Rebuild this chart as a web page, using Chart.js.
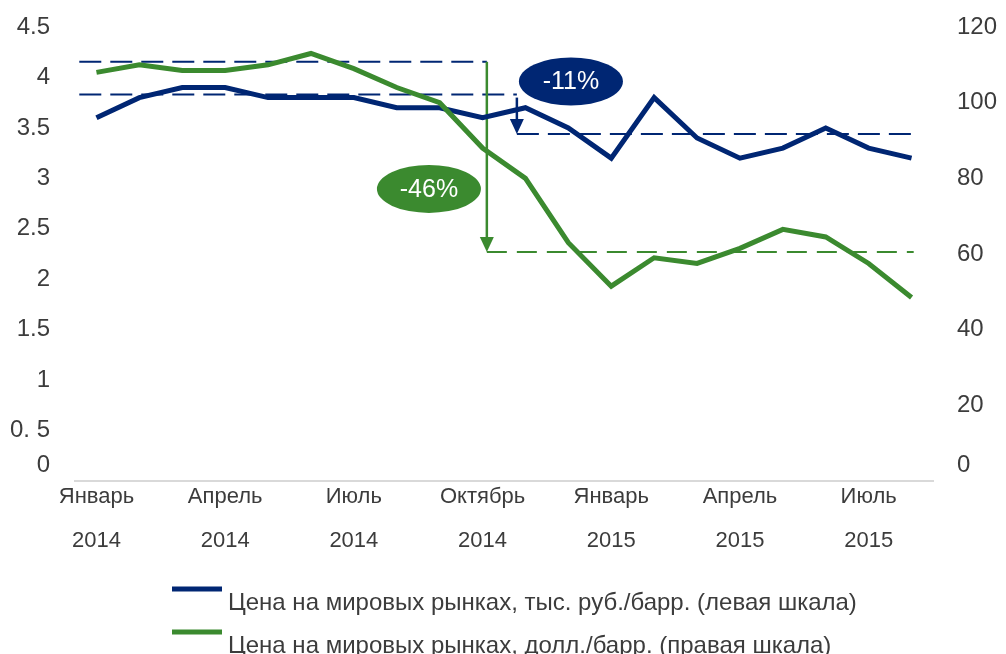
<!DOCTYPE html>
<html lang="ru">
<head>
<meta charset="UTF-8" />
<title>Цена нефти</title>
<script src="https://cdn.jsdelivr.net/npm/chart.js"></script>
<style>
  html, body { margin: 0; padding: 0; background: #fff; }
  #wrap { width: 1006px; height: 654px; }
</style>
</head>
<body>
<div id="wrap"><canvas id="chart"></canvas></div>
<script>
  const MONTHS = ["Январь", "Февраль", "Март", "Апрель", "Май", "Июнь", "Июль", "Август", "Сентябрь", "Октябрь", "Ноябрь", "Декабрь",
                  "Январь", "Февраль", "Март", "Апрель", "Май", "Июнь", "Июль", "Август"];
  const YEARS = ["2014", "2014", "2014", "2014", "2014", "2014", "2014", "2014", "2014", "2014", "2014", "2014",
                 "2015", "2015", "2015", "2015", "2015", "2015", "2015", "2015"];

  // тыс. руб./барр. (левая шкала)
  const RUB_PRICE = [3.6, 3.8, 3.9, 3.9, 3.8, 3.8, 3.8, 3.7, 3.7, 3.6, 3.7, 3.5, 3.2, 3.8, 3.4, 3.2, 3.3, 3.5, 3.3, 3.2];
  // долл./барр. (правая шкала)
  const USD_PRICE = [108, 110, 108.5, 108.5, 110, 113, 109, 104, 100, 88, 80, 63, 51.5, 59, 57.5, 61.5, 66.5, 64.5, 57.5, 48.5];

  const LEFT_TICKS = ["0", "0. 5", "1", "1.5", "2", "2.5", "3", "3.5", "4", "4.5"];
  const RIGHT_TICKS = ["0", "20", "40", "60", "80", "100", "120"];

  const SERIES_NAMES = [
    "Цена на мировых рынках, тыс. руб./барр. (левая шкала)",
    "Цена на мировых рынках, долл./барр. (правая шкала)"
  ];

  // уровни до и после падения
  const RUB_DROP = { from: 3.83, to: 3.44, text: "-11%" };
  const USD_DROP = { from: 110.8, to: 60.5, text: "-46%" };

  const NAVY = "#002673";
  const GREEN = "#3b8a2f";
  const TEXT = "#3c3c3c";
  const FONT = "'Liberation Sans', Arial, sans-serif";

  function dashed(ctx, x1, x2, y, color, dash) {
    ctx.beginPath();
    ctx.setLineDash(dash);
    ctx.strokeStyle = color;
    ctx.lineWidth = 2;
    ctx.moveTo(x1, y);
    ctx.lineTo(x2, y);
    ctx.stroke();
    ctx.setLineDash([]);
  }

  function arrow(ctx, x, y1, y2, color) {
    ctx.strokeStyle = color;
    ctx.fillStyle = color;
    ctx.lineWidth = 2.5;
    ctx.beginPath();
    ctx.moveTo(x, y1);
    ctx.lineTo(x, y2 - 12);
    ctx.stroke();
    ctx.beginPath();
    ctx.moveTo(x - 7, y2 - 15);
    ctx.lineTo(x + 7, y2 - 15);
    ctx.lineTo(x, y2);
    ctx.closePath();
    ctx.fill();
  }

  function badge(ctx, cx, cy, text, color) {
    ctx.fillStyle = color;
    ctx.beginPath();
    ctx.ellipse(cx, cy, 52, 24, 0, 0, Math.PI * 2);
    ctx.fill();
    ctx.fillStyle = "#fff";
    ctx.font = "25px " + FONT;
    ctx.textAlign = "center";
    ctx.textBaseline = "middle";
    ctx.fillText(text, cx, cy + 1);
  }

  const dropPlugin = {
    id: "drops",
    beforeDatasetsDraw(chart) {
      const { ctx, scales } = chart;
      const { x, y, y1 } = scales;
      const step = x.getPixelForValue(1) - x.getPixelForValue(0);
      const px = (i) => x.getPixelForValue(0) + i * step;
      const xStart = px(-0.4), xEnd = px(19.05);
      const gx = px(9.1), bx = px(9.8);
      const gTop = y1.getPixelForValue(USD_DROP.from), gBot = y1.getPixelForValue(USD_DROP.to);
      const bTop = y.getPixelForValue(RUB_DROP.from), bBot = y.getPixelForValue(RUB_DROP.to);
      ctx.save();
      dashed(ctx, xStart, gx, gTop, NAVY, [22, 9]);
      dashed(ctx, xStart, bx, bTop, NAVY, [22, 9]);
      dashed(ctx, bx, xEnd, bBot, NAVY, [22, 9]);
      dashed(ctx, gx, xEnd, gBot, GREEN, [20, 10]);
      arrow(ctx, gx, gTop, gBot, GREEN);
      arrow(ctx, bx, bTop + 3, bBot, NAVY);
      ctx.restore();
    },
    afterDatasetsDraw(chart) {
      const { ctx, scales } = chart;
      const { x, y, y1 } = scales;
      const step = x.getPixelForValue(1) - x.getPixelForValue(0);
      const px = (i) => x.getPixelForValue(0) + i * step;
      ctx.save();
      badge(ctx, px(11.06), y.getPixelForValue(3.96), RUB_DROP.text, NAVY);
      badge(ctx, px(7.75), y1.getPixelForValue(77.2), USD_DROP.text, GREEN);
      ctx.restore();
    }
  };

  // легенда под графиком: линия над началом подписи
  const legendPlugin = {
    id: "legendBelow",
    afterDraw(chart) {
      const ctx = chart.ctx;
      ctx.save();
      chart.data.datasets.forEach((ds, i) => {
        const top = 589 + i * 43;
        ctx.fillStyle = ds.borderColor;
        ctx.fillRect(172, top - 2.5, 50, 5);
        ctx.fillStyle = TEXT;
        ctx.font = "24px " + FONT;
        ctx.textAlign = "left";
        ctx.textBaseline = "middle";
        ctx.fillText(ds.label, 228, top + 14);
      });
      ctx.restore();
    }
  };

  const tickFont = { family: FONT, size: 24, lineHeight: 1.3 };

  // у вертикальных осей убираем запас сверху/снизу, который даёт padding подписей
  function fitY(width) {
    return (s) => {
      s.width = width;
      s.paddingTop = 0;
      s.paddingBottom = 0;
    };
  }

  new Chart(document.getElementById("chart"), {
    type: "line",
    data: {
      labels: MONTHS.map((m, i) => [m, YEARS[i]]),
      datasets: [
        {
          label: SERIES_NAMES[0],
          data: RUB_PRICE,
          yAxisID: "y",
          borderColor: NAVY,
          borderWidth: 5,
          pointRadius: 0,
          tension: 0,
          order: 0
        },
        {
          label: SERIES_NAMES[1],
          data: USD_PRICE,
          yAxisID: "y1",
          borderColor: GREEN,
          borderWidth: 5,
          pointRadius: 0,
          tension: 0,
          order: -1
        }
      ]
    },
    options: {
      responsive: true,
      maintainAspectRatio: false,
      animation: false,
      layout: { padding: { top: 27, bottom: 93, left: 0, right: 0 } },
      plugins: { legend: { display: false }, tooltip: { enabled: false } },
      scales: {
        x: {
          offset: true,
          grid: { display: false, drawTicks: false },
          border: { display: true, color: "#d9d9d9", width: 2 },
          afterFit: (s) => { s.height = 80; },
          ticks: {
            autoSkip: false,
            maxRotation: 0,
            padding: -6,
            color: TEXT,
            font: { family: FONT, size: 22, lineHeight: 2 },
            callback: function (v, i) { return i % 3 === 0 ? this.getLabelForValue(v) : ""; }
          }
        },
        y: {
          position: "left",
          min: 0,
          max: 4.5,
          grid: { display: false, drawTicks: false },
          border: { display: false },
          afterFit: fitY(75),
          ticks: {
            autoSkip: false,
            stepSize: 0.5,
            padding: 25,
            color: TEXT,
            font: tickFont,
            callback: (v) => {
              const t = LEFT_TICKS[Math.round(v / 0.5)];
              return v === 0 ? [t, ""] : t;
            }
          }
        },
        y1: {
          position: "right",
          min: 0,
          max: 120,
          grid: { display: false, drawTicks: false },
          border: { display: false },
          afterFit: fitY(73),
          ticks: {
            autoSkip: false,
            stepSize: 20,
            padding: 24,
            color: TEXT,
            font: tickFont,
            callback: (v) => {
              const t = RIGHT_TICKS[Math.round(v / 20)];
              return v === 0 ? [t, ""] : t;
            }
          }
        }
      }
    },
    plugins: [dropPlugin, legendPlugin]
  });
</script>
</body>
</html>
